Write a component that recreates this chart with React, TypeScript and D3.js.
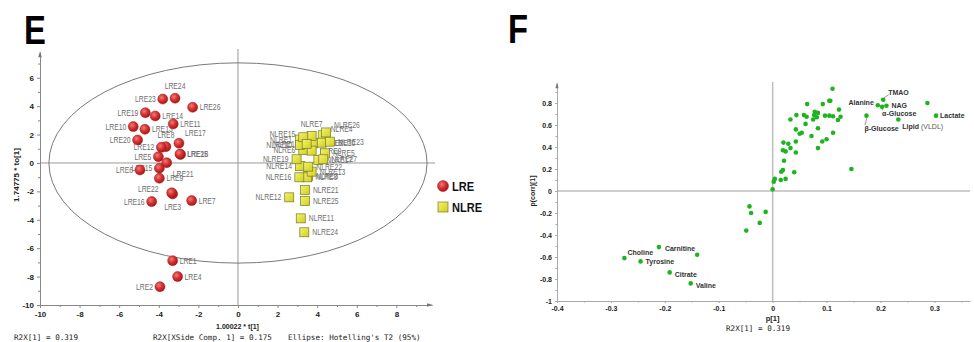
import React, { useEffect, useRef } from "react";
import * as d3 from "d3";

// ---- panel E: OPLS-DA scores ----
const lreNames = ["LRE1", "LRE2", "LRE3", "LRE4", "LRE5", "LRE6", "LRE7", "LRE8", "LRE9", "LRE10", "LRE11", "LRE12", "LRE13",
  "LRE14", "LRE15", "LRE16", "LRE17", "LRE18", "LRE19", "LRE20", "LRE21", "LRE22", "LRE23", "LRE24", "LRE25", "LRE26"];
const lreT = [-3.3, -3.94, -3.3, -3.05, -4.02, -4.95, -2.34, -3.64, -3.97, -5.29, -3.27, -3.87, -4.7,
  -4.18, -3.97, -4.36, -2.98, -2.9, -4.68, -5.07, -3.6, -3.35, -3.8, -3.18, -2.93, -2.29];
const lreTo = [-6.88, -8.71, -2.18, -8.0, 0.44, -0.49, -2.65, 1.15, -1.08, 2.56, 2.75, 1.1, 2.37,
  3.31, -0.37, -2.72, 1.39, 0.6, 3.54, 1.62, 0.02, -2.1, 4.5, 4.56, 0.63, 3.92];

const nlreNames = ["NLRE1", "NLRE2", "NLRE3", "NLRE4", "NLRE5", "NLRE6", "NLRE7", "NLRE8", "NLRE9", "NLRE10", "NLRE11", "NLRE12",
  "NLRE13", "NLRE14", "NLRE15", "NLRE16", "NLRE17", "NLRE18", "NLRE19", "NLRE20", "NLRE21", "NLRE22", "NLRE23", "NLRE24",
  "NLRE25", "NLRE26", "NLRE27"];
const nlreT = [3.13, 3.8, 3.55, 4.28, 4.39, 3.3, 3.72, 3.5, 3.72, 3.13, 3.17, 2.59,
  3.72, 3.13, 3.3, 3.1, 4.06, 3.47, 2.96, 4.23, 3.38, 3.55, 4.65, 3.35, 3.38, 4.45, 4.31];
const nlreTo = [1.65, 1.39, -0.9, 1.95, 0.68, 0.92, 1.9, -1.01, 0.87, 1.27, -3.9, -2.42,
  -0.61, -0.21, 1.81, -1.01, 0.21, 1.34, 0.26, 1.43, -1.9, -0.26, 1.5, -4.88, -2.68, 2.15, 0.26];

const xTicksE = [-10, -8, -6, -4, -2, 0, 2, 4, 6, 8];
const yTicksE = [-10, -8, -6, -4, -2, 0, 2, 4, 6];

// ---- panel F: S-plot ----
const metNames = ["Choline", "Tyrosine", "Carnitine", "Citrate", "Valine", "", "", "", "", "", "",
  "Alanine", "TMAO", "NAG", "α-Glucose", "β-Glucose", "Lipid (VLDL)", "Lactate", "",
  "", "", "", "", "", "", "", "", "", "", "", "", "", "", "", "", "", "", "", "", "", "", "", "", "", "", "", "",
  "", "", "", "", "", "", "", "", "", "", "", "", "", "", "", "", "", "", ""];
const metP = [-0.275, -0.245, -0.211, -0.191, -0.152, -0.14, -0.049, -0.043, -0.04, -0.024, -0.013,
  0.195, 0.205, 0.211, 0.203, 0.174, 0.233, 0.303, 0.287,
  0.0, 0.004, 0.002, 0.015, 0.024, 0.016, 0.019, 0.04, 0.021, 0.146, 0.019, 0.024, 0.02, 0.029, 0.043, 0.043,
  0.033, 0.05, 0.054, 0.043, 0.033, 0.044, 0.058, 0.061, 0.064, 0.063, 0.072, 0.075, 0.077, 0.084, 0.078, 0.082,
  0.084, 0.084, 0.092, 0.1, 0.112, 0.093, 0.105, 0.107, 0.111, 0.097, 0.105, 0.112, 0.123, 0.126, 0.121, 0.143, 0.158];
const metPcorr = [-0.61, -0.64, -0.51, -0.74, -0.84, -0.58, -0.36, -0.14, -0.2, -0.29, -0.19,
  0.78, 0.83, 0.775, 0.765, 0.685, 0.65, 0.685, 0.8,
  0.015, 0.11, 0.085, 0.1, 0.11, 0.175, 0.19, 0.17, 0.275, 0.2, 0.37, 0.36, 0.44, 0.43, 0.35, 0.45,
  0.39, 0.52, 0.53, 0.56, 0.65, 0.69, 0.69, 0.61, 0.79, 0.675, 0.5, 0.65, 0.69, 0.71, 0.72, 0.67,
  0.57, 0.39, 0.45, 0.47, 0.53, 0.79, 0.82, 0.82, 0.93, 0.685, 0.685, 0.68, 0.74, 0.675, 0.645, 0.74, 0.67];

const xTicksF = [-0.4, -0.3, -0.2, -0.1, 0, 0.1, 0.2, 0.3];
const yTicksF = [-1, -0.8, -0.6, -0.4, -0.2, 0, 0.2, 0.4, 0.6, 0.8];

// label placement (px offsets from the mark)
type Place = [number, number, string];
const side: Record<string, Place> = {
  r: [7, 0, "start"], l: [-7, 0, "end"], t: [0, -12, "middle"], b: [0, 13, "middle"],
  tr: [6, -10, "start"], br: [6, 11, "start"],
};
const lreSide: Record<string, Place> = {
  LRE2: side.l, LRE3: side.b, LRE5: side.l, LRE6: side.l, LRE8: side.t, LRE10: side.l, LRE12: side.l,
  LRE15: side.l, LRE16: side.l, LRE17: side.tr, LRE19: side.l, LRE20: side.l, LRE21: side.br,
  LRE22: [-13, -4, "end"], LRE23: side.l, LRE24: side.t,
};
const nlreSide: Record<string, Place> = {
  NLRE1: [-8, 0, "end"], NLRE6: [-8, 0, "end"], NLRE7: [0, -12, "middle"], NLRE10: [-8, 0, "end"],
  NLRE12: [-8, 0, "end"], NLRE14: [-8, 0, "end"], NLRE15: [-8, -3, "end"], NLRE16: [-8, 0, "end"],
  NLRE18: [-8, 0, "end"], NLRE19: [-8, 0, "end"], NLRE4: [8, -6, "start"], NLRE26: [8, -7, "start"],
};
const metPlace: Record<string, [number, number, string, boolean]> = {
  Choline: [3, -6, "start", false], Tyrosine: [5, 0, "start", false], Carnitine: [6, 1, "start", false],
  Citrate: [5, 2, "start", false], Valine: [5, 2, "start", false], Alanine: [-4, -3, "end", false],
  TMAO: [5, -7, "start", true], NAG: [5, 0, "start", false], "α-Glucose": [0, 7, "start", true],
  "β-Glucose": [-2, 13, "start", true], "Lipid (VLDL)": [4, 7, "start", false], Lactate: [4, 0, "start", false],
};

const sans = "'Liberation Sans', Arial, sans-serif";
const mono = "'DejaVu Sans Mono', 'Liberation Mono', monospace";

export default function App() {
  const ref = useRef<SVGSVGElement>(null);

  useEffect(() => {
    const svg = d3.select(ref.current);
    svg.selectAll("*").remove();
    const defs = svg.append("defs");

    const rg = defs.append("radialGradient").attr("id", "redBall").attr("cx", "38%").attr("cy", "35%").attr("r", "65%");
    rg.append("stop").attr("offset", "0%").attr("stop-color", "#f27a7a");
    rg.append("stop").attr("offset", "55%").attr("stop-color", "#d63030");
    rg.append("stop").attr("offset", "100%").attr("stop-color", "#a81818");
    const yg = defs.append("linearGradient").attr("id", "yelBox").attr("x1", "0").attr("y1", "0").attr("x2", "1").attr("y2", "1");
    yg.append("stop").attr("offset", "0%").attr("stop-color", "#f4f470");
    yg.append("stop").attr("offset", "100%").attr("stop-color", "#cfcf1c");

    const squish = (g: any, x: number, y: number, s: string, sx: number) =>
      g.append("text").attr("transform", `translate(${x},${y}) scale(${sx},1)`).text(s);

    // ================= E =================
    const xE = d3.scaleLinear().domain([-10, 9.8]).range([40, 432]);
    const yE = d3.scaleLinear().domain([-10, 7.8]).range([305, 52.2]);
    const e = svg.append("g");

    squish(e, 24, 44, "E", 0.82).attr("font-family", sans).attr("font-weight", "bold").attr("font-size", 40).attr("fill", "#000");

    e.append("line").attr("x1", xE(0)).attr("x2", xE(0)).attr("y1", 49).attr("y2", yE(-10)).attr("stroke", "#9a9a9a");
    e.append("line").attr("x1", xE(-10)).attr("x2", 435).attr("y1", yE(0)).attr("y2", yE(0)).attr("stroke", "#9a9a9a");

    const styleAxis = (g: any, col: string, fs: number) => {
      g.select(".domain").attr("stroke", col);
      g.selectAll(".tick line").attr("stroke", col);
      g.selectAll("text").attr("font-family", sans).attr("font-weight", "bold").attr("font-size", fs).attr("fill", "#222");
    };
    const oddE = d3.range(-9, 8, 2);
    const xMinorE = d3.range(-9, 9.5, 1).filter((v) => v % 2 !== 0);

    const gyE = e.append("g").attr("transform", `translate(${xE(-10)},0)`)
      .call(d3.axisLeft(yE).tickValues(yTicksE).tickSize(3).tickSizeOuter(0).tickFormat((d) => String(d)));
    styleAxis(gyE, "#888", 8);
    e.append("g").attr("transform", `translate(${xE(-10)},0)`)
      .call(d3.axisLeft(yE).tickValues(oddE).tickSize(2).tickFormat(() => ""))
      .call((g: any) => g.select(".domain").remove()).selectAll("line").attr("stroke", "#888");
    const gxE = e.append("g").attr("transform", `translate(0,${yE(-10)})`)
      .call(d3.axisBottom(xE).tickValues(xTicksE).tickSize(3).tickSizeOuter(0).tickFormat((d) => String(d)));
    styleAxis(gxE, "#888", 8);
    e.append("g").attr("transform", `translate(0,${yE(-10)})`)
      .call(d3.axisBottom(xE).tickValues(xMinorE).tickSize(2).tickFormat(() => ""))
      .call((g: any) => g.select(".domain").remove()).selectAll("line").attr("stroke", "#888");
    e.append("path").attr("d", `M${xE(-10) - 1.8},${yE(7.8) + 5}L${xE(-10)},${yE(7.8) - 1}L${xE(-10) + 1.8},${yE(7.8) + 5}Z`).attr("fill", "#777");
    e.append("path").attr("d", `M${xE(9.8) - 5},${yE(-10) - 1.8}L${xE(9.8) + 1},${yE(-10)}L${xE(9.8) - 5},${yE(-10) + 1.8}Z`).attr("fill", "#777");

    e.append("ellipse").attr("cx", xE(0)).attr("cy", yE(0))
      .attr("rx", xE(9.55) - xE(0)).attr("ry", yE(0) - yE(7.05))
      .attr("fill", "none").attr("stroke", "#7a7a7a").attr("stroke-width", 1);

    const lre = lreNames.map((n, i) => ({ n, x: lreT[i], y: lreTo[i] }));
    const nlre = nlreNames.map((n, i) => ({ n, x: nlreT[i], y: nlreTo[i] }));

    const lab = e.append("g").attr("font-family", sans).attr("font-size", 8.5).attr("fill", "#6e6e6e");
    lre.forEach((d) => {
      const p = lreSide[d.n] || side.r;
      squish(lab, xE(d.x) + p[0], yE(d.y) + p[1] + 3, d.n, 0.8).attr("text-anchor", p[2]);
    });
    nlre.forEach((d) => {
      const p = nlreSide[d.n] || [8, 0, "start"];
      squish(lab, xE(d.x) + p[0], yE(d.y) + p[1] + 3, d.n, 0.8).attr("text-anchor", p[2]);
    });

    e.append("g").selectAll("rect").data(nlre).join("rect")
      .attr("x", (d) => xE(d.x) - 4.5).attr("y", (d) => yE(d.y) - 4.5).attr("width", 9).attr("height", 9)
      .attr("fill", "url(#yelBox)").attr("stroke", "#77772e").attr("stroke-width", 0.7);
    e.append("g").selectAll("circle").data(lre).join("circle")
      .attr("cx", (d) => xE(d.x)).attr("cy", (d) => yE(d.y)).attr("r", 5)
      .attr("fill", "url(#redBall)").attr("stroke", "#9c1c1c").attr("stroke-width", 0.5);

    // legend
    e.append("circle").attr("cx", 443).attr("cy", 186).attr("r", 5.5).attr("fill", "url(#redBall)").attr("stroke", "#9c1c1c").attr("stroke-width", 0.5);
    e.append("rect").attr("x", 438).attr("y", 202).attr("width", 10).attr("height", 10).attr("fill", "url(#yelBox)").attr("stroke", "#77772e").attr("stroke-width", 0.7);
    squish(e, 452, 190.5, "LRE", 0.85).attr("font-family", sans).attr("font-weight", "bold").attr("font-size", 13).attr("fill", "#111");
    squish(e, 452, 211.5, "NLRE", 0.85).attr("font-family", sans).attr("font-weight", "bold").attr("font-size", 13).attr("fill", "#111");

    // titles
    e.append("text").attr("transform", `translate(19,175) rotate(-90)`).attr("text-anchor", "middle")
      .attr("font-family", sans).attr("font-weight", "bold").attr("font-size", 8).attr("fill", "#222").text("1.74775 * to[1]");
    squish(e, 237.5, 329, "1.00022 * t[1]", 0.88).attr("text-anchor", "middle")
      .attr("font-family", sans).attr("font-weight", "bold").attr("font-size", 8).attr("fill", "#222");
    const foot = e.append("g").attr("font-family", mono).attr("font-size", 7.6).attr("fill", "#222");
    foot.append("text").attr("x", 14).attr("y", 340).text("R2X[1] = 0.319");
    foot.append("text").attr("x", 153).attr("y", 340).text("R2X[XSide Comp. 1] = 0.175");
    foot.append("text").attr("x", 288).attr("y", 340).text("Ellipse: Hotelling's T2 (95%)");

    // ================= F =================
    const xF = d3.scaleLinear().domain([-0.4, 0.366]).range([557, 970]);
    const yF = d3.scaleLinear().domain([-1, 0.98]).range([301, 83.2]);
    const f = svg.append("g");

    squish(f, 508, 43, "F", 0.82).attr("font-family", sans).attr("font-weight", "bold").attr("font-size", 40).attr("fill", "#000");

    f.append("line").attr("x1", xF(0)).attr("x2", xF(0)).attr("y1", 82).attr("y2", yF(-1)).attr("stroke", "#bdbdbd").attr("stroke-width", 1.5);
    f.append("line").attr("x1", xF(-0.4)).attr("x2", 970).attr("y1", yF(0)).attr("y2", yF(0)).attr("stroke", "#bdbdbd").attr("stroke-width", 1.5);

    const fmt = (d: any) => String(+(+d).toFixed(1));
    const gyF = f.append("g").attr("transform", `translate(${xF(-0.4)},0)`)
      .call(d3.axisLeft(yF).tickValues(yTicksF).tickSize(2).tickSizeOuter(0).tickFormat(fmt));
    styleAxis(gyF, "#aaa", 7);
    f.append("g").attr("transform", `translate(${xF(-0.4)},0)`)
      .call(d3.axisLeft(yF).tickValues(d3.range(-0.9, 0.95, 0.2)).tickSize(1.5).tickFormat(() => ""))
      .call((g: any) => g.select(".domain").remove()).selectAll("line").attr("stroke", "#aaa");
    const gxF = f.append("g").attr("transform", `translate(0,${yF(-1)})`)
      .call(d3.axisBottom(xF).tickValues(xTicksF).tickSize(2).tickSizeOuter(0).tickFormat(fmt));
    styleAxis(gxF, "#aaa", 7);
    f.append("g").attr("transform", `translate(0,${yF(-1)})`)
      .call(d3.axisBottom(xF).tickValues(d3.range(-0.35, 0.36, 0.1)).tickSize(1.5).tickFormat(() => ""))
      .call((g: any) => g.select(".domain").remove()).selectAll("line").attr("stroke", "#aaa");
    f.append("path").attr("d", `M${xF(-0.4) - 1.6},${yF(0.98) + 5}L${xF(-0.4)},${yF(0.98) - 1}L${xF(-0.4) + 1.6},${yF(0.98) + 5}Z`).attr("fill", "#777");

    f.append("text").attr("transform", `translate(535,191) rotate(-90)`).attr("text-anchor", "middle")
      .attr("font-family", sans).attr("font-weight", "bold").attr("font-size", 7).attr("fill", "#222").text("p(corr)[1]");
    f.append("text").attr("x", xF(0)).attr("y", 321).attr("text-anchor", "middle")
      .attr("font-family", sans).attr("font-weight", "bold").attr("font-size", 7.5).attr("fill", "#222").text("p[1]");
    f.append("text").attr("x", 758).attr("y", 331).attr("text-anchor", "middle")
      .attr("font-family", mono).attr("font-size", 7.6).attr("fill", "#222").text("R2X[1] = 0.319");

    const mets = metNames.map((n, i) => ({ n, x: metP[i], y: metPcorr[i] }));
    const ml = f.append("g").attr("font-family", sans).attr("font-weight", "bold").attr("font-size", 7).attr("fill", "#333");
    mets.filter((d) => d.n).forEach((d) => {
      const p = metPlace[d.n];
      const px = xF(d.x), py = yF(d.y);
      if (p[3]) {
        ml.append("line").attr("x1", px + 0.5).attr("y1", py + (p[1] < 0 ? -1.5 : 1.5))
          .attr("x2", px + p[0] + 0.5).attr("y2", py + p[1] + (p[1] < 0 ? 2 : -3.5))
          .attr("stroke", "#555").attr("stroke-width", 0.6);
      }
      const t = ml.append("text").attr("x", px + p[0]).attr("y", py + p[1] + 2.5).attr("text-anchor", p[2]);
      if (d.n === "Lipid (VLDL)") {
        t.append("tspan").text("Lipid");
        t.append("tspan").attr("font-weight", "normal").attr("fill", "#555").text(" (VLDL)");
      } else t.text(d.n);
    });
    f.append("g").selectAll("circle").data(mets).join("circle")
      .attr("cx", (d) => xF(d.x)).attr("cy", (d) => yF(d.y)).attr("r", 2.3)
      .attr("fill", "#1fb41f");
  }, []);

  return (
    <svg ref={ref} width={974} height={342}
      style={{ position: "absolute", left: 0, top: 0, background: "#fff", display: "block" }} />
  );
}
